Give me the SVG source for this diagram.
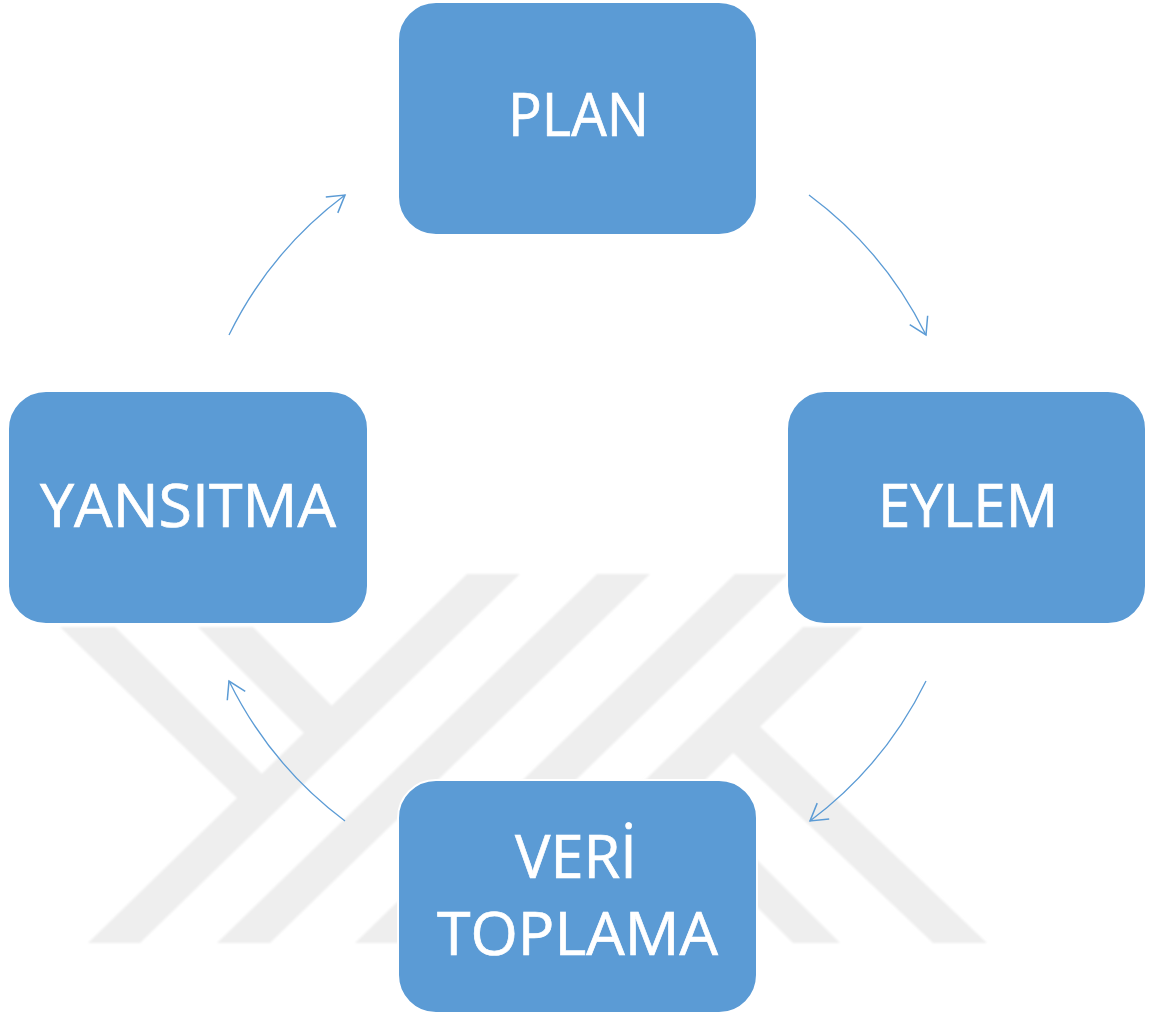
<svg xmlns="http://www.w3.org/2000/svg" width="1152" height="1018" viewBox="0 0 1152 1018">
  <defs>
    <style>
      .wm { fill: #eeeeee; stroke: none; }
      .box { fill: #5b9bd5; stroke: #ffffff; stroke-width: 2; }
      .lbl { fill: #ffffff; stroke: #ffffff; stroke-width: 0.7; font-family: "Open Sans", "Noto Sans", "Liberation Sans", sans-serif; font-size: 60px; text-anchor: middle; }
      .conn { fill: none; stroke: #5b9bd5; stroke-width: 1.3; }
    </style>
    <marker id="arrow" markerUnits="userSpaceOnUse" markerWidth="40" markerHeight="40" viewBox="-20 -20 40 40" refX="0" refY="0" orient="auto" overflow="visible">
      <path d="M-16.5,-10 L0,0 L-16.5,10" fill="none" stroke="#5b9bd5" stroke-width="1.5"/>
    </marker>
    <filter id="soft" x="-5%" y="-5%" width="110%" height="110%">
      <feGaussianBlur stdDeviation="1"/>
    </filter>
  </defs>

  <rect x="0" y="0" width="1152" height="1018" fill="#ffffff"/>

  <g id="watermark" filter="url(#soft)">
    <polygon class="wm" points="88,943 140,943 520,574 467,574"/>
    <polygon class="wm" points="217,943 270,943 650,574 597,574"/>
    <polygon class="wm" points="355,943 408,943 788,574 735,574"/>
    <polygon class="wm" points="477,943 537,943 863,627 803,627"/>
    <polygon class="wm" points="60,627 115,627 285,797 237,798"/>
    <polygon class="wm" points="198,627 253,627 340,714 312,741"/>
    <polygon class="wm" points="725,745 752,719 987,943 933,943"/>
    <polygon class="wm" points="667,817 691,794 840,943 793,943"/>
  </g>

  <g id="connectors">
    <path class="conn" d="M229,335 A389,389 0 0 1 345,195" marker-end="url(#arrow)"/>
    <path class="conn" d="M809,195 A389,389 0 0 1 926,335" marker-end="url(#arrow)"/>
    <path class="conn" d="M926,681 A389,389 0 0 1 810,821" marker-end="url(#arrow)"/>
    <path class="conn" d="M345,821 A389,389 0 0 1 229,681" marker-end="url(#arrow)"/>
  </g>

  <g id="node-plan">
    <path class="box" d="M436,2 H719 A38,38 0 0 1 757,40 V197 A38,38 0 0 1 719,235 H436 A38,38 0 0 1 398,197 V40 A38,38 0 0 1 436,2 Z"/>
    <text class="lbl" x="578.5" y="136" textLength="141" lengthAdjust="spacingAndGlyphs">PLAN</text>
  </g>

  <g id="node-eylem">
    <path class="box" d="M825,391 H1108 A38,38 0 0 1 1146,429 V586 A38,38 0 0 1 1108,624 H825 A38,38 0 0 1 787,586 V429 A38,38 0 0 1 825,391 Z"/>
    <text class="lbl" x="968" y="527" textLength="180" lengthAdjust="spacingAndGlyphs">EYLEM</text>
  </g>

  <g id="node-yansitma">
    <path class="box" d="M46,391 H330 A38,38 0 0 1 368,429 V586 A38,38 0 0 1 330,624 H46 A38,38 0 0 1 8,586 V429 A38,38 0 0 1 46,391 Z"/>
    <text class="lbl" x="188" y="527" textLength="296" lengthAdjust="spacingAndGlyphs">YANSITMA</text>
  </g>

  <g id="node-veri-toplama">
    <path class="box" d="M436,780 H719 A38,38 0 0 1 757,818 V975 A38,38 0 0 1 719,1013 H436 A38,38 0 0 1 398,975 V818 A38,38 0 0 1 436,780 Z"/>
    <text class="lbl" x="576" y="878" textLength="122" lengthAdjust="spacingAndGlyphs">VERİ</text>
    <text class="lbl" x="577.5" y="955" textLength="281" lengthAdjust="spacingAndGlyphs">TOPLAMA</text>
  </g>
</svg>
